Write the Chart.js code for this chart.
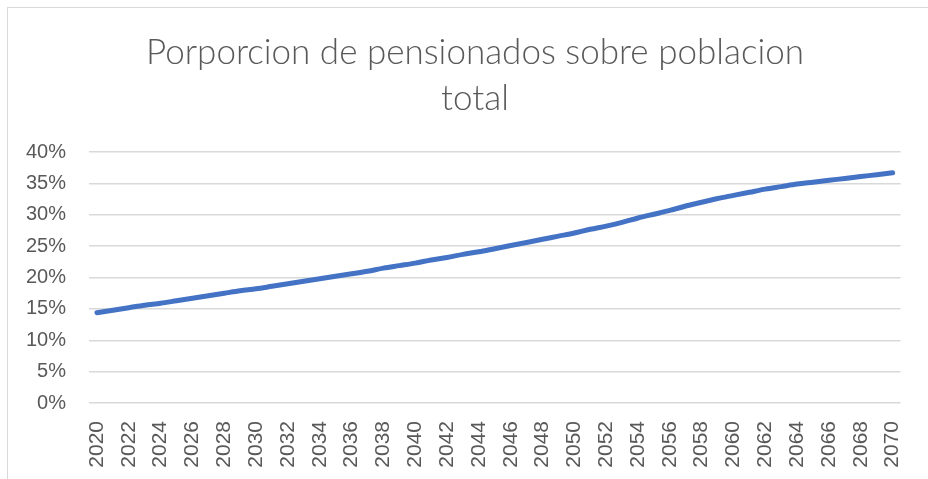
<!DOCTYPE html>
<html>
<head>
<meta charset="utf-8">
<script src="https://cdn.jsdelivr.net/npm/chart.js@4"></script>
<style>
  html, body { margin: 0; padding: 0; background: #fff; }
  body { width: 928px; height: 479px; position: relative; overflow: hidden; }
  #frame { position: absolute; left: 7px; top: 7px; width: 1000px; height: 1000px; border: 1px solid #d9d9d9; box-sizing: border-box; }
  #myChart { position: absolute; left: 0; top: 0; }
</style>
</head>
<body>
<div id="frame"></div>
<canvas id="myChart" width="928" height="479"></canvas>
<script>
// años (una etiqueta cada 2 se muestra)
var years = ['2020','2021','2022','2023','2024','2025','2026','2027','2028','2029',
             '2030','2031','2032','2033','2034','2035','2036','2037','2038','2039',
             '2040','2041','2042','2043','2044','2045','2046','2047','2048','2049',
             '2050','2051','2052','2053','2054','2055','2056','2057','2058','2059',
             '2060','2061','2062','2063','2064','2065','2066','2067','2068','2069',
             '2070'];

// % de pensionados sobre poblacion total
var proporcion = [14.4, 14.8, 15.2, 15.6, 15.9, 16.3, 16.7, 17.1, 17.5, 17.9,
                  18.2, 18.6, 19.0, 19.4, 19.8, 20.2, 20.6, 21.0, 21.5, 21.9,
                  22.3, 22.8, 23.2, 23.7, 24.1, 24.6, 25.1, 25.6, 26.1, 26.6,
                  27.1, 27.7, 28.2, 28.8, 29.5, 30.1, 30.7, 31.4, 32.0, 32.6,
                  33.1, 33.6, 34.1, 34.5, 34.9, 35.2, 35.5, 35.8, 36.1, 36.4,
                  36.7];

var titleLines = ['Porporcion de pensionados sobre poblacion', 'total'];
var yTicks = [0, 40, 5]; // min, max, paso

var grey = '#595959';
var ctx = document.getElementById('myChart');

// el titulo esta centrado sobre todo el marco del grafico (que sigue fuera de la ventana)
var shiftTitle = {
    id: 'shiftTitle',
    afterLayout: function (chart) {
        if (chart.titleBlock) chart.titleBlock.left = 38;
    }
};

var chart = new Chart(ctx, {
    type: 'line',
    data: {
        labels: years,
        datasets: [{
            label: 'Proporcion',
            data: proporcion,
            borderColor: '#4472C4',
            borderWidth: 5,
            borderCapStyle: 'round',
            borderJoinStyle: 'round',
            pointRadius: 0,
            fill: false,
            cubicInterpolationMode: 'monotone'
        }]
    },
    plugins: [shiftTitle],
    options: {
        responsive: false,
        animation: false,
        layout: { padding: { left: 0, right: 16, top: 0, bottom: 0 } },
        plugins: {
            legend: { display: false },
            tooltip: { enabled: false },
            title: {
                display: true,
                text: titleLines,
                color: grey,
                font: { family: 'Lato', size: 35, weight: '300', lineHeight: 1.33 },
                padding: { top: 29, bottom: 30 }
            }
        },
        scales: {
            x: {
                offset: true,
                grid: { display: false },
                border: { display: false },
                afterFit: function (scale) { scale.height = 76; },
                ticks: {
                    autoSkip: false,
                    minRotation: 90,
                    maxRotation: 90,
                    padding: 10,
                    color: grey,
                    font: { family: 'Liberation Sans', size: 21 },
                    callback: function (val, i) { return i % 2 === 0 ? years[i] : ''; }
                }
            },
            y: {
                min: yTicks[0],
                max: yTicks[1],
                border: { display: false },
                grid: { color: '#d9d9d9', lineWidth: 1.5, drawTicks: false },
                afterFit: function (scale) { scale.width = 89; },
                ticks: {
                    stepSize: yTicks[2],
                    padding: 23,
                    color: grey,
                    font: { family: 'Liberation Sans', size: 20 },
                    callback: function (v) { return v + '%'; }
                }
            }
        }
    }
});
</script>
</body>
</html>
